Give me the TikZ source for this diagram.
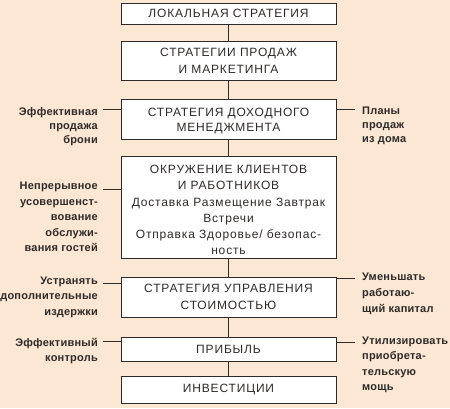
\documentclass[tikz,border=0pt]{standalone}
\usepackage{fontspec}
\setmainfont{Liberation Sans}
\newfontfamily\boxfont[LetterSpace=7]{Liberation Sans}
\newfontfamily\sidefont[LetterSpace=2]{Liberation Sans}
\definecolor{bgpeach}{HTML}{FBE7D4}
\definecolor{inkgray}{HTML}{2E2A28}
\tikzset{
  box/.style={draw=inkgray, line width=1pt, fill=white, minimum width=215pt, inner sep=0pt, align=center, text=inkgray, font=\boxfont\fontsize{12}{17}\selectfont},
  lbl/.style={anchor=north east, align=right, inner sep=0pt, text=inkgray},
  rbl/.style={anchor=north west, align=left, inner sep=0pt, text=inkgray},
  link/.style={draw=inkgray, line width=0.8pt}
}
\newcommand{\sidesize}[1]{\sidefont\bfseries\fontsize{11}{#1}\selectfont}
\begin{document}
\begin{tikzpicture}[x=1pt,y=-1pt]
\fill[bgpeach] (0,0) rectangle (450,408);
\useasboundingbox (0,0) rectangle (450,408);
\node[box, minimum height=21pt] (b1) at (228.5,13.5) {ЛОКАЛЬНАЯ СТРАТЕГИЯ};
\node[box, minimum height=39pt] (b2) at (228.5,60.5) {СТРАТЕГИИ ПРОДАЖ\\И МАРКЕТИНГА};
\node[box, minimum height=40pt, font=\boxfont\fontsize{12}{15.5}\selectfont] (b3) at (228.5,119) {\rule{0pt}{12pt}СТРАТЕГИЯ ДОХОДНОГО\\МЕНЕДЖМЕНТА};
\node[box, minimum height=102pt, font=\boxfont\fontsize{12}{16.3}\selectfont] (b4) at (228.5,207) {\rule{0pt}{14.5pt}ОКРУЖЕНИЕ КЛИЕНТОВ\\И РАБОТНИКОВ\\Доставка Размещение Завтрак\\Встречи\\Отправка Здоровье/ безопас-\\ность};
\node[box, minimum height=40pt] (b5) at (228.5,297) {СТРАТЕГИЯ УПРАВЛЕНИЯ\\СТОИМОСТЬЮ};
\node[box, minimum height=24pt] (b6) at (228.5,349) {ПРИБЫЛЬ};
\node[box, minimum height=27pt] (b7) at (228.5,389.5) {ИНВЕСТИЦИИ};
\foreach \a/\b in {b1/b2,b2/b3,b3/b4,b4/b5,b5/b6,b6/b7}{\draw[link] (\a.south) -- (\b.north);}
% side labels
\node[lbl, font=\sidesize{14}] (t3l) at (98,107) {Эффективная\\продажа\\брони};
\node[rbl, font=\sidesize{14}] (t3r) at (362,107) {Планы\\продаж\\из дома};
\node[lbl, font=\sidesize{15.5}] (t4l) at (98,182) {Непрерывное\\усовершенст-\\вование\\обслужи-\\вания гостей};
\node[lbl, font=\sidesize{15.5}] (t5l) at (98,276.5) {Устранять\\дополнительные\\издержки};
\node[rbl, font=\sidesize{16}] (t5r) at (362,272.5) {Уменьшать\\работаю-\\щий капитал};
\node[lbl, font=\sidesize{15}] (t6l) at (98,338) {Эффективный\\контроль};
\node[rbl, font=\sidesize{15.5}] (t6r) at (362,336.5) {Утилизировать\\приобрета-\\тельскую\\мощь};
% side connectors
\coordinate (c3l) at (103,109);
\coordinate (c3r) at (355,109);
\coordinate (c4l) at (103,189);
\coordinate (c5l) at (103,283);
\coordinate (c5r) at (355,278);
\coordinate (c6l) at (103,341);
\coordinate (c6r) at (355,342);
\draw[link] (c3l) -- (c3l -| b3.west);
\draw[link] (c3r) -- (c3r -| b3.east);
\draw[link] (c4l) -- (c4l -| b4.west);
\draw[link] (c5l) -- (c5l -| b5.west);
\draw[link] (c5r) -- (c5r -| b5.east);
\draw[link] (c6l) -- (c6l -| b6.west);
\draw[link] (c6r) -- (c6r -| b6.east);
\end{tikzpicture}
\end{document}
